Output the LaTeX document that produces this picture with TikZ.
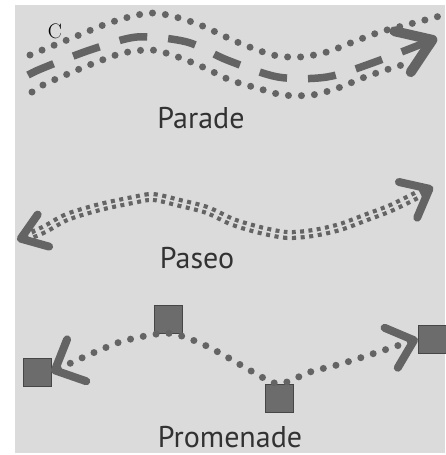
\documentclass[tikz,border=0pt]{standalone}
\usepackage{fontspec}
\newfontfamily\labelfont{PT Sans}
\usetikzlibrary{arrows.meta}
\definecolor{paper}{RGB}{219,219,219}
\definecolor{ink}{RGB}{100,100,100}
\definecolor{textgray}{RGB}{50,50,50}
\begin{document}
\begin{tikzpicture}[x=1pt,y=-1pt,
				barb/.tip={Straight Barb[length=24pt,width=42pt,line width=8pt,round]},
				beads/.style={ink,line width=7pt,line cap=round,dash pattern=on 0pt off 13pt},
				dashes/.style={ink,line width=7.5pt,dash pattern=on 28pt off 21pt},
				chain/.style={ink,line width=10pt,dash pattern=on 4pt off 4.5pt,
					postaction={draw=paper,line width=1.5pt,solid,-,shorten <=22pt,shorten >=22pt}},
				plaza/.style={draw=ink!70!black,fill=ink!95,minimum size=28pt,inner sep=0pt},
				caption/.style={font=\labelfont\fontsize{30}{30}\selectfont,text=textgray,anchor=base}]
				\useasboundingbox (0,0) rectangle (445,455);
				\fill[paper] (15,5) rectangle (445,453);
				\node[font=\fontsize{21}{21}\selectfont,anchor=base] (tag) at (55,38) {C};
				\draw[beads] plot[smooth] coordinates {(30,55) (72,38) (112,22) (153,13) (195,23) (237,42) (273,55) (300,57) (327,52) (353,42) (380,32) (410,24) (440,16)};
				\draw[beads] plot[smooth] coordinates {(32,92) (43,85) (70,73) (97,62) (123,53) (152,50) (178,57) (205,68) (230,80) (257,88) (283,95) (312,95) (338,88) (365,77) (392,68) (402,65)};
				\draw[dashes,-{barb[width=44pt,length=32pt,line width=10pt]}] plot[smooth] coordinates {(28,75) (43,68) (90,50) (137,37) (187,42) (227,60) (278,77) (327,77) (375,62) (437,38)};
				\node[caption] (parade) at (201,128) {Parade};
				\draw[chain,{barb[width=34pt]}-{barb[width=40pt]}] plot[smooth] coordinates {(17,240) (43,230) (67,217) (100,207) (133,200) (153,197) (180,203) (207,210) (233,222) (260,230) (287,235) (313,233) (340,227) (367,217) (393,207) (433,187)};
				\node[caption] (paseo) at (197,268) {Paseo};
				\node[plaza] (sqL) at (37,372) {};
				\node[plaza] (sqT) at (168,319) {};
				\node[plaza] (sqB) at (279,398) {};
				\node[plaza] (sqR) at (432,339) {};
				\draw[beads,{barb[width=46pt]}-{barb}] plot[smooth] coordinates {(sqL.east) (100,350) (127,340) (sqT.south) (200,343) (227,357) (253,372) (sqB.north) (310,372) (337,365) (363,357) (sqR.west)};
				\node[caption] (promenade) at (230,447) {Promenade};
			\end{tikzpicture}
\end{document}
